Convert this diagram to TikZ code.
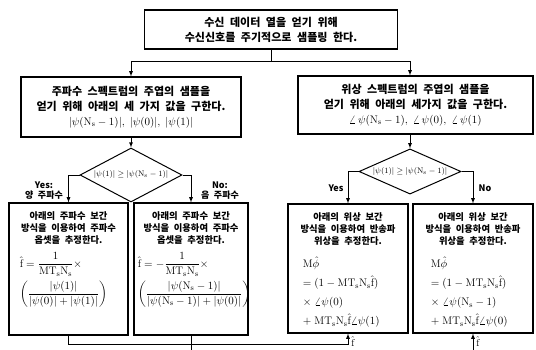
\RequirePackage{fix-cm}
\documentclass[tikz,border=0pt]{standalone}
\usepackage{amsmath}
\usepackage{fontspec}
\newfontfamily\kr{Noto Sans CJK KR}[WordSpace=2.2]
\newcommand{\mtn}{\mathrm{MT_sN_s}}
\newcommand{\fh}{\hat{\mathrm{f}}}
\newcommand{\Ns}{\mathrm{N_s}}
\usetikzlibrary{positioning,shapes.geometric}

\begin{document}
\begin{tikzpicture}[x=1pt,y=-1pt,>=latex,line width=0.8pt]
        \tikzstyle{box}=[draw,line width=1.1pt,inner sep=2pt,align=center,font=\kr\bfseries\fontsize{11}{15}\selectfont]
        \tikzstyle{test}=[draw,line width=1pt,diamond,aspect=2,inner sep=0pt,font=\fontsize{8}{9}\selectfont]
        \tikzstyle{sub}=[draw,line width=1.1pt,inner sep=0pt]
        \tikzstyle{subtext}=[inner sep=0pt,align=center,font=\kr\bfseries\fontsize{9.3}{11.7}\selectfont]
        \tikzstyle{eq}=[inner sep=0pt,align=left,font=\fontsize{11}{19}\selectfont]
        \tikzstyle{tag}=[inner sep=0pt,align=center,font=\kr\bfseries\fontsize{9}{10}\selectfont]
        \useasboundingbox (0,0) rectangle (536,350);

        \node[box,minimum width=253pt,minimum height=39pt] (sample) at (271,29.5) {수신 데이터 열을 얻기 위해\\수신신호를 주기적으로 샘플링 한다.};

        \node[box,minimum width=220pt,minimum height=60pt] (fspec) at (131,107) {주파수 스펙트럼의 주엽의 샘플을\\얻기 위해 아래의 세 가지 값을 구한다.\\$\lvert\psi(\Ns-1)\rvert,\;\lvert\psi(0)\rvert,\;\lvert\psi(1)\rvert$};
        \node[box,minimum width=235pt,minimum height=58pt] (pspec) at (415.5,105) {위상 스펙트럼의 주엽의 샘플을\\얻기 위해 아래의 세가지 값을 구한다.\\$\angle\,\psi(\Ns-1),\;\angle\,\psi(0),\;\angle\,\psi(1)$};

        \node[test,minimum width=102pt,minimum height=54pt] (ftest) at (131,175) {$\lvert\psi(1)\rvert \geq \lvert\psi(\Ns-1)\rvert$};
        \node[test,minimum width=102pt,minimum height=44pt] (ptest) at (410,171.5) {$\lvert\psi(1)\rvert \geq \lvert\psi(\Ns-1)\rvert$};

        % frequency offset
        \node[sub,minimum width=119pt,minimum height=132pt] (fpos) at (68.5,269) {};
        \node[sub,minimum width=114pt,minimum height=132pt] (fneg) at (191,269) {};
        \node[subtext,below=9pt of fpos.north] (fpos-t) {아래의 주파수 보간\\방식을 이용하여 주파수\\옵셋을 추정한다.};
        \node[subtext,below=9pt of fneg.north] (fneg-t) {아래의 주파수 보간\\방식을 이용하여 주파수\\옵셋을 추정한다.};
        \node[eq,below right=50pt and 11pt of fpos.north west] (fpos-eq) {$\fh = \dfrac{1}{\mtn} \times$\\[3pt]$\left(\dfrac{\lvert\psi(1)\rvert}{\lvert\psi(0)\rvert+\lvert\psi(1)\rvert}\right)$};
        \node[eq,below right=50pt and 4pt of fneg.north west] (fneg-eq) {$\fh = -\dfrac{1}{\mtn} \times$\\[3pt]$\left(\dfrac{\lvert\psi(\Ns-1)\rvert}{\lvert\psi(\Ns-1)\rvert+\lvert\psi(0)\rvert}\right)$};

        % carrier phase
        \node[sub,minimum width=120pt,minimum height=129pt] (ppos) at (348,268.5) {};
        \node[sub,minimum width=120pt,minimum height=129pt] (pneg) at (473,268.5) {};
        \node[subtext,below=9pt of ppos.north] (ppos-t) {아래의 위상 보간\\방식을 이용하여 반송파\\위상을 추정한다.};
        \node[subtext,below=9pt of pneg.north] (pneg-t) {아래의 위상 보간\\방식을 이용하여 반송파\\위상을 추정한다.};
        \node[eq,below right=53pt and 15pt of ppos.north west] (ppos-eq) {$\mathrm{M}\hat{\phi}$\\$=(1-\mtn\fh)$\\$\times\;\angle\psi(0)$\\$+\;\mtn\fh\angle\psi(1)$};
        \node[eq,below right=53pt and 18pt of pneg.north west] (pneg-eq) {$\mathrm{M}\hat{\phi}$\\$=(1-\mtn\fh)$\\$\times\;\angle\psi(\Ns-1)$\\$+\;\mtn\fh\angle\psi(0)$};

        \node[tag] (fyes) at (44,191) {Yes:\\양 주파수};
        \node[tag] (fno) at (220,191) {No:\\음 주파수};
        \node[tag] (pyes) at (336,188) {Yes};
        \node[tag] (pno) at (485,188) {No};

        \draw[->] (sample.south) -- ++(0,12) -| (fspec.north);
        \draw[->] (sample.south) -- ++(0,12) -| (pspec.north -| ptest.north);
        \draw[->] (fspec.south) -- (ftest.north);
        \draw[->] (pspec.south -| ptest.north) -- (ptest.north);

        \draw[->] (ftest.west) -| (fpos.north);
        \draw[->] (ftest.east) -| (fneg.north);
        \draw[->] (ptest.west) -| (ppos.north);
        \draw[->] (ptest.east) -| (pneg.north);

        \draw[->] (fpos.south) -- ++(0,9) -| (ppos.south);
        \draw[->] (fneg.south) -- ++(0,14.5) -| (pneg.south);
        \node[anchor=north west,inner sep=0pt,font=\fontsize{10}{10}\selectfont] (fhat-pos) at ([xshift=3pt,yshift=-3pt]ppos.south) {$\fh$};
        \node[anchor=north west,inner sep=0pt,font=\fontsize{10}{10}\selectfont] (fhat-neg) at ([xshift=3pt,yshift=-3pt]pneg.south) {$\fh$};
\end{tikzpicture}
\end{document}
